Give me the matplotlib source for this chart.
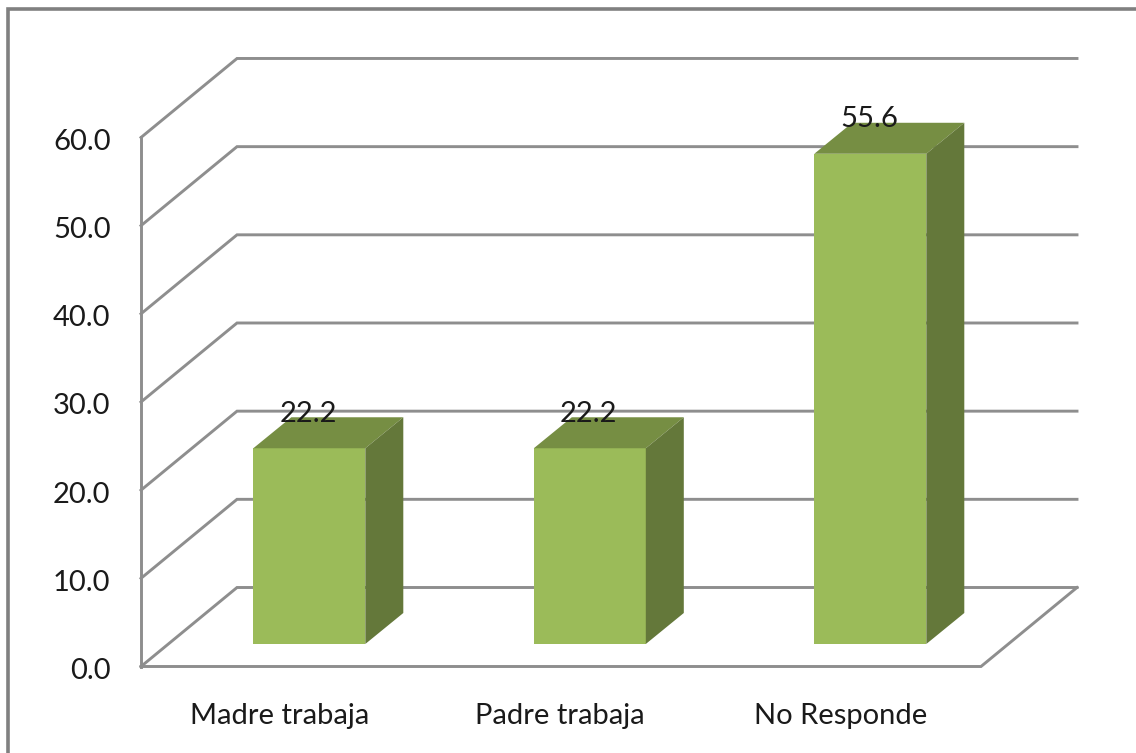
import matplotlib
matplotlib.use('Agg')
import matplotlib.pyplot as plt
from matplotlib.patches import Polygon

plt.rcParams['font.family'] = ['Lato', 'DejaVu Sans']

# Data
categories = ['Madre trabaja', 'Padre trabaja', 'No Responde']
values = [22.2, 22.2, 55.6]
y_ticks = [0, 10, 20, 30, 40, 50, 60]

# Colours
grid_color = '#8E8E8E'
front_color = '#9BBB59'
top_color = '#768E43'
side_color = '#64783A'
text_color = '#1a1a1a'

# Scale of the axes in pixels, x unit = one category, y unit = one chart value
W, H = 1136, 753
cat_px = 280.5
val_px = 8.817
x0_px = 309.3   # centre of first category
y0_px = 666.5   # value 0 on front plane


def px_x(p):
    return (p - x0_px) / cat_px


def px_y(p):
    return (y0_px - p) / val_px


wall_dx = 96 / cat_px
wall_dy = 79 / val_px
bar_w = 112 / cat_px
bar_dx = 38 / cat_px
bar_dy = 31 / val_px
bar_base = 22.5 / val_px   # bars stand a little behind the front edge
label_shift = -30 / cat_px   # category labels sit left of the bars
x_left = px_x(141)
x_right = px_x(981)

fig = plt.figure(figsize=(W / 100, H / 100), dpi=100, facecolor='white')
ax = fig.add_axes([0, 0, 1, 1])
ax.set_xlim(px_x(0), px_x(W))
ax.set_ylim(px_y(H), px_y(0))
ax.axis('off')

# Outer frame (only top and left are in the crop)
ax.plot([px_x(8), px_x(8), px_x(W)], [px_y(H), px_y(9.5), px_y(9.5)],
        color='#808080', lw=2.6, solid_joinstyle='miter', zorder=1)

# Walls and gridlines
for v in y_ticks:
    ax.plot([x_left, x_left + wall_dx, x_right + wall_dx], [v, v + wall_dy, v + wall_dy],
            color=grid_color, lw=2.1, solid_joinstyle='miter', zorder=2)
    ax.text(px_x(110.5), v - 0.5, '%.1f' % v, ha='right', va='center',
            fontsize=21, color=text_color, zorder=5)

# Left edge and floor
ax.plot([x_left, x_left], [y_ticks[0], y_ticks[-1]], color=grid_color, lw=2.1, zorder=2)
ax.plot([x_left, x_right, x_right + wall_dx], [0, 0, wall_dy],
        color=grid_color, lw=2.1, solid_joinstyle='miter', zorder=2)

# Bars
for i, (name, v) in enumerate(zip(categories, values)):
    left = i - bar_w / 2
    right = i + bar_w / 2
    top = bar_base + v
    ax.add_patch(Polygon([(left, bar_base), (right, bar_base), (right, top), (left, top)],
                         fc=front_color, ec='none', zorder=3))
    ax.add_patch(Polygon([(left, top), (right, top), (right + bar_dx, top + bar_dy), (left + bar_dx, top + bar_dy)],
                         fc=top_color, ec='none', zorder=3))
    ax.add_patch(Polygon([(right, bar_base), (right + bar_dx, bar_base + bar_dy),
                          (right + bar_dx, top + bar_dy), (right, top)],
                         fc=side_color, ec='none', zorder=3))
    # value label sits on the bar's top face
    ax.text(i - 0.004, top + 3.9, '%.1f' % v, ha='center', va='center',
            fontsize=21, color=text_color, zorder=6)
    ax.text(i + label_shift, px_y(716), name, ha='center', va='center',
            fontsize=21, color=text_color, zorder=5)

fig.savefig('out.png', dpi=100)
